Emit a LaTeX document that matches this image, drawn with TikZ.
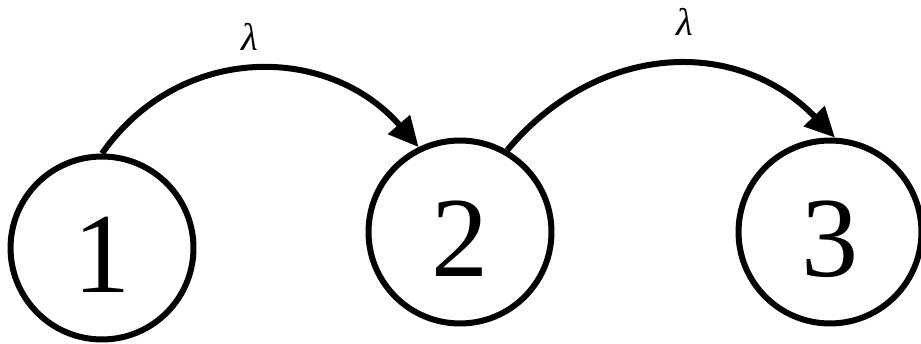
\documentclass[tikz,border=0pt]{standalone}
\usepackage{fontspec}
\setmainfont{Liberation Serif}
\usetikzlibrary{arrows.meta}
\begin{document}
\begin{tikzpicture}[x=0.02cm, y=0.02cm,
		st/.style = {circle,	draw=black,	line width=0.12cm,	minimum size=3.66cm, inner sep=0pt,
			font=\fontsize{65}{65}\selectfont, text height=1.78cm, text depth=0pt},
		l/.style = {font=\fontsize{22}{22}\selectfont\itshape, inner sep=0pt},
		r/.style = {-{Triangle[length=0.6cm, width=0.56cm]}, line width=0.12cm}
		]
		\useasboundingbox (0, 0) rectangle (921, 344);
		
		%Nodes
		\node[st]	(s1)	at	(102, 96)	{1};
		\node[st]	(s2)	at	(460, 112)	{2};
		\node[st]	(s3)	at	(830, 112)	{3};
		
		\node[l]	(l12)	at	(250, 307)	{λ};
		\node[l]	(l23)	at	(685, 322)	{λ};
		
		%Lines
		\draw[r]	(s1.north)	to[out=55, in=131, looseness=1.1]	(s2.116);
		\draw[r]	(s2.60)		to[out=50, in=134, looseness=1.1]	(s3.87);
	\end{tikzpicture}
\end{document}
